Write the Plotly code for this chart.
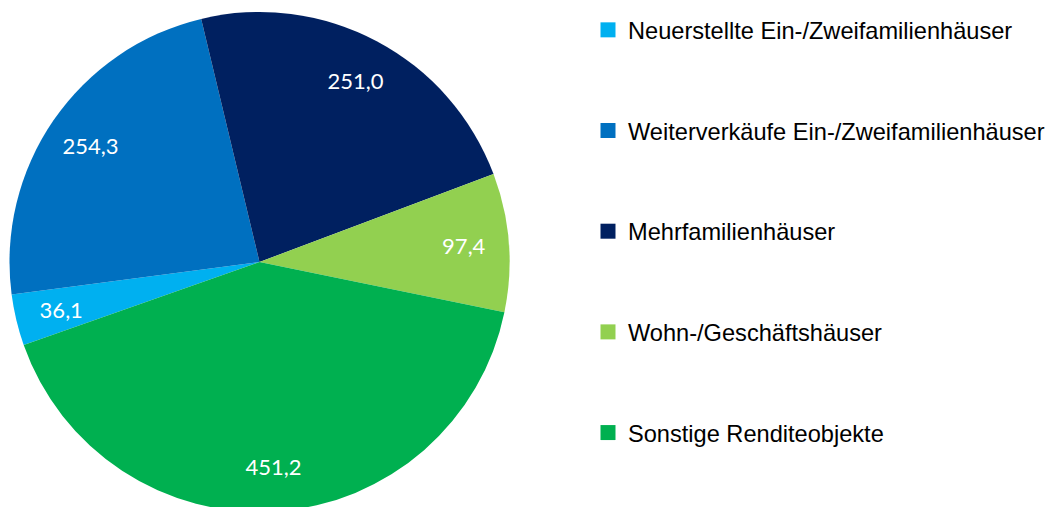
import plotly.graph_objects as go

categories = [
    "Neuerstellte Ein-/Zweifamilienhäuser",
    "Weiterverkäufe Ein-/Zweifamilienhäuser",
    "Mehrfamilienhäuser",
    "Wohn-/Geschäftshäuser",
    "Sonstige Renditeobjekte",
]
values = [36.1, 254.3, 251.0, 97.4, 451.2]
colors = ["#00B0F0", "#0070C0", "#002060", "#92D050", "#00B050"]

W, H = 1053, 520
domain = dict(x=[1.5 / W, 501.5 / W], y=[16 / H, 516 / H])
# slightly smaller concentric domain for the narrow slice's label
inner = 25
domain_small = dict(x=[(1.5 + inner) / W, (501.5 - inner) / W],
                    y=[(16 + inner) / H, (516 - inner) / H])
rotation = 250.6
transparent = ["rgba(0,0,0,0)"] * len(values)
small_slice = [v < 50 for v in values]

fig = go.Figure()
# main pie
fig.add_trace(go.Pie(
    labels=categories, values=values, sort=False, direction="clockwise",
    rotation=rotation, domain=domain,
    marker=dict(colors=colors, line=dict(width=0)),
    textinfo="none", showlegend=False, hoverinfo="label+value",
))
# transparent ring carrying the value labels near the outer edge
fig.add_trace(go.Pie(
    labels=categories, values=values, sort=False, direction="clockwise",
    rotation=rotation, domain=domain, hole=0.64,
    marker=dict(colors=transparent, line=dict(width=0)),
    texttemplate=["" if s else "%{value:.1f}" for s in small_slice],
    textposition="inside", insidetextorientation="horizontal",
    textfont=dict(family="Lato", size=22, color="white"),
    showlegend=False, hoverinfo="skip",
))
# smaller transparent ring for the label of the narrow slice
fig.add_trace(go.Pie(
    labels=categories, values=values, sort=False, direction="clockwise",
    rotation=rotation, domain=domain_small, hole=0.5,
    marker=dict(colors=transparent, line=dict(width=0)),
    texttemplate=["%{value:.1f}" if s else "" for s in small_slice],
    textposition="inside", insidetextorientation="horizontal",
    textfont=dict(family="Lato", size=22, color="white"),
    showlegend=False, hoverinfo="skip",
))
# legend entries
for i, (c, col) in enumerate(zip(categories, colors)):
    fig.add_trace(go.Scatter(
        x=[None], y=[None], mode="markers", name=c, legendgroup=f"g{i}",
        marker=dict(symbol="square", size=15, color=col, line=dict(width=0)),
    ))

fig.update_layout(
    width=W, height=H,
    margin=dict(l=0, r=0, t=0, b=0),
    paper_bgcolor="white", plot_bgcolor="white",
    separators=",.",
    uniformtext=dict(minsize=22, mode="show"),
    xaxis=dict(visible=False), yaxis=dict(visible=False),
    legend=dict(
        x=580 / W, xanchor="left", y=1, yanchor="top",
        font=dict(family="Liberation Sans, Arial", size=23.6, color="#000000"),
        tracegroupgap=67, bgcolor="rgba(0,0,0,0)",
    ),
)

fig.write_html("out.html")
